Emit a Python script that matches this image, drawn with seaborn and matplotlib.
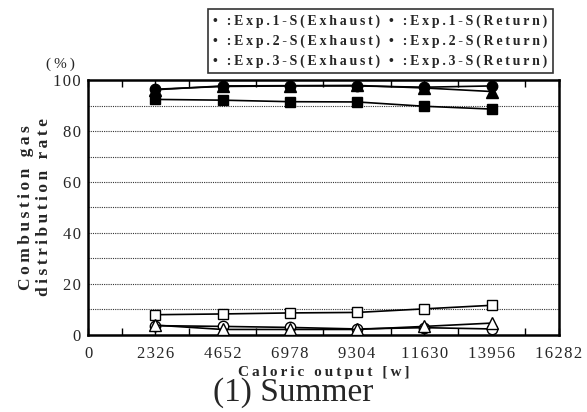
import matplotlib
matplotlib.use("Agg")
import matplotlib.pyplot as plt
import seaborn as sns
import numpy as np

# ---- data ----
caloric_output = [2326, 4652, 6978, 9304, 11630, 13956]
exp1_exhaust = [96.5, 97.6, 97.8, 97.8, 97.3, 97.8]
exp1_return = [3.5, 3.2, 2.8, 2.2, 2.7, 2.2]
exp2_exhaust = [92.5, 92.2, 91.6, 91.5, 89.8, 88.7]
exp2_return = [7.8, 8.1, 8.5, 8.7, 10.1, 11.5]
exp3_exhaust = [96.3, 97.8, 97.9, 98.0, 97.0, 95.6]
exp3_return = [3.7, 2.0, 2.0, 2.0, 3.2, 4.5]

series_labels = [":Exp.1-S(Exhaust)", ":Exp.2-S(Exhaust)", ":Exp.3-S(Exhaust)",
                 ":Exp.1-S(Return)", ":Exp.2-S(Return)", ":Exp.3-S(Return)"]
x_tick_values = [0, 2326, 4652, 6978, 9304, 11630, 13956, 16282]
x_tick_labels = ["0", "2326", "4652", "6978", "9304", "11630", "13956", "16282"]
y_tick_values = [0, 20, 40, 60, 80, 100]
y_tick_labels = ["0", "20", "40", "60", "80", "100"]
x_label = "Caloric output [w]"
y_label = "Combustion gas\ndistribution rate"
unit_label = "(%)"
caption = "(1) Summer"

FAM = ["Liberation Serif", "DejaVu Serif"]
HAIR = "\u200a"
THIN = "\u2009"


def sp(s, sep=HAIR):
    return "\n".join(sep.join(list(line)) for line in s.split("\n"))


sns.set_style("white")
plt.rcParams["font.family"] = FAM

fig = plt.figure(figsize=(5.87, 4.12), dpi=100)
ax = fig.add_axes([0.150, 0.188, 0.802, 0.617])

series = [
    (exp1_exhaust, "o", "black"),
    (exp2_exhaust, "s", "black"),
    (exp3_exhaust, "^", "black"),
    (exp1_return, "o", "white"),
    (exp2_return, "s", "white"),
    (exp3_return, "^", "white"),
]
for vals, mk, fc in series:
    ms = {"o": 7.5, "s": 6.5, "^": 8.5}[mk]
    sns.lineplot(x=caloric_output, y=vals, ax=ax, color="black", linewidth=1.2,
                 marker=mk, markersize=ms, markerfacecolor=fc,
                 markeredgecolor="black", markeredgewidth=1.0, zorder=3)

ax.set_xlim(0, 16282)
ax.set_ylim(0, 100)

for g in range(10, 100, 10):
    ax.axhline(g, color="#333333", linestyle=(0, (1, 1)), linewidth=0.8, zorder=1)

ax.set_xticks(x_tick_values)
ax.set_xticklabels([sp(t) for t in x_tick_labels], fontsize=12, family=FAM)
ax.set_xticks(np.arange(1163, 16282, 2326), minor=True)
ax.set_yticks(y_tick_values)
ax.set_yticklabels([sp(t) for t in y_tick_labels], fontsize=12, family=FAM)

ax.tick_params(axis="x", which="both", direction="in", top=True, bottom=True,
               length=5, width=1, color="black", pad=8)
ax.tick_params(axis="y", which="both", length=0, pad=5)

for s in ax.spines.values():
    s.set_linewidth(1.8)
    s.set_color("black")

ax.set_xlabel(sp(x_label, THIN), fontsize=11, fontweight="bold", family=FAM, labelpad=3)
ax.set_ylabel(sp(y_label, THIN), fontsize=12.5, fontweight="bold", family=FAM,
              labelpad=1, linespacing=1.15)

fig.text(60 / 587, 1 - 64 / 412, sp(unit_label, THIN), fontsize=11, family=FAM,
         ha="center", va="center")
fig.text(0.5, 1 - 393 / 412, caption, fontsize=24, family=FAM,
         ha="center", va="center")

handles = [plt.Line2D([], [], linestyle="none", alpha=0) for _ in series_labels]
leg = ax.legend(handles, [sp("• " + l, THIN) for l in series_labels], ncol=2,
                loc="upper right", bbox_to_anchor=(553 / 587, 1 - 9 / 412),
                bbox_transform=fig.transFigure, borderaxespad=0,
                frameon=True, fancybox=False,
                handlelength=0, handletextpad=0, columnspacing=0.6,
                borderpad=0.4, labelspacing=0.45,
                prop={"family": FAM, "weight": "bold", "size": 10})
leg.get_frame().set_edgecolor("black")
leg.get_frame().set_linewidth(1.2)

fig.savefig("out.png", dpi=100)
